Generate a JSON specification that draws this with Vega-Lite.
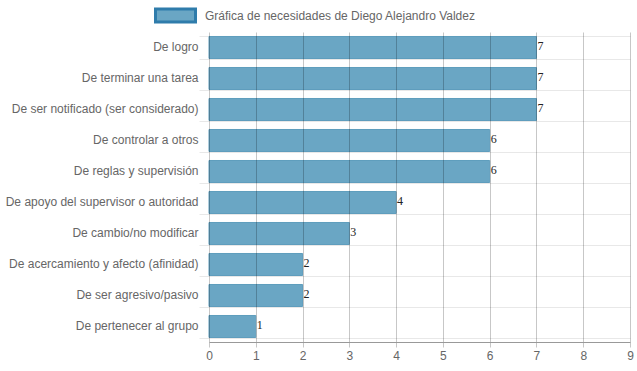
{
  "$schema": "https://vega.github.io/schema/vega-lite/v6.json",
  "autosize": {"type": "none"},
  "width": 421,
  "height": 310,
  "padding": {"left": 209, "top": 32, "right": 7, "bottom": 29},
  "background": "white",
  "config": {
    "view": {"stroke": null},
    "font": "Liberation Sans"
  },
  "data": {
    "values": [
      {"necesidad": "De logro", "valor": 7, "serie": "Gráfica de necesidades de Diego Alejandro Valdez"},
      {"necesidad": "De terminar una tarea", "valor": 7, "serie": "Gráfica de necesidades de Diego Alejandro Valdez"},
      {"necesidad": "De ser notificado (ser considerado)", "valor": 7, "serie": "Gráfica de necesidades de Diego Alejandro Valdez"},
      {"necesidad": "De controlar a otros", "valor": 6, "serie": "Gráfica de necesidades de Diego Alejandro Valdez"},
      {"necesidad": "De reglas y supervisión", "valor": 6, "serie": "Gráfica de necesidades de Diego Alejandro Valdez"},
      {"necesidad": "De apoyo del supervisor o autoridad", "valor": 4, "serie": "Gráfica de necesidades de Diego Alejandro Valdez"},
      {"necesidad": "De cambio/no modificar", "valor": 3, "serie": "Gráfica de necesidades de Diego Alejandro Valdez"},
      {"necesidad": "De acercamiento y afecto (afinidad)", "valor": 2, "serie": "Gráfica de necesidades de Diego Alejandro Valdez"},
      {"necesidad": "De ser agresivo/pasivo", "valor": 2, "serie": "Gráfica de necesidades de Diego Alejandro Valdez"},
      {"necesidad": "De pertenecer al grupo", "valor": 1, "serie": "Gráfica de necesidades de Diego Alejandro Valdez"}
    ]
  },
  "encoding": {
    "y": {
      "field": "necesidad",
      "type": "nominal",
      "sort": null,
      "title": null,
      "scale": {"paddingInner": 0.29, "paddingOuter": 0.145},
      "axis": {
        "domain": false,
        "grid": true,
        "gridColor": "#e8e8e8",
        "tickColor": "#e8e8e8",
        "tickSize": 10,
        "tickBand": "extent",
        "bandPosition": 0,
        "labelPadding": 1,
        "labelFont": "Liberation Sans",
        "labelFontSize": 12,
        "labelColor": "#666666",
        "labelLimit": 250,
        "labelBaseline": "middle",
        "labelOffset": -1
      }
    },
    "x": {
      "field": "valor",
      "type": "quantitative",
      "title": null,
      "scale": {"domain": [0, 9], "nice": false},
      "axis": {
        "values": [0, 1, 2, 3, 4, 5, 6, 7, 8, 9],
        "grid": true,
        "gridColor": "#000000",
        "gridOpacity": 0.22,
        "zindex": 1,
        "domainColor": "#999999",
        "tickColor": "#000000",
        "tickOpacity": 0.22,
        "tickSize": 5,
        "labelFlush": false,
        "labelFont": "Liberation Sans",
        "labelFontSize": 12,
        "labelColor": "#666666",
        "labelPadding": 3,
        "format": "d"
      }
    }
  },
  "layer": [
    {
      "mark": {"type": "bar", "stroke": "#5f9dbd", "strokeWidth": 1},
      "encoding": {
        "color": {
          "field": "serie",
          "type": "nominal",
          "scale": {"range": ["#6aa6c4"]},
          "legend": {
            "title": null,
            "orient": "none",
            "legendX": -55,
            "legendY": -38,
            "symbolType": "M-1,-0.32H1V0.32H-1Z",
            "symbolSize": 1600,
            "symbolStrokeColor": "#2f7cab",
            "symbolStrokeWidth": 3,
            "symbolFillColor": "#6aa6c4",
            "symbolOffset": 0,
            "labelFont": "Liberation Sans",
            "labelFontSize": 12,
            "labelColor": "#666666",
            "labelOffset": 8,
            "labelLimit": 400
          }
        }
      }
    },
    {
      "mark": {"type": "text", "align": "left", "baseline": "middle", "dx": 1, "dy": -2, "font": "Liberation Serif", "fontSize": 12, "color": "#222222"},
      "encoding": {
        "text": {"field": "valor", "type": "quantitative"}
      }
    }
  ]
}
